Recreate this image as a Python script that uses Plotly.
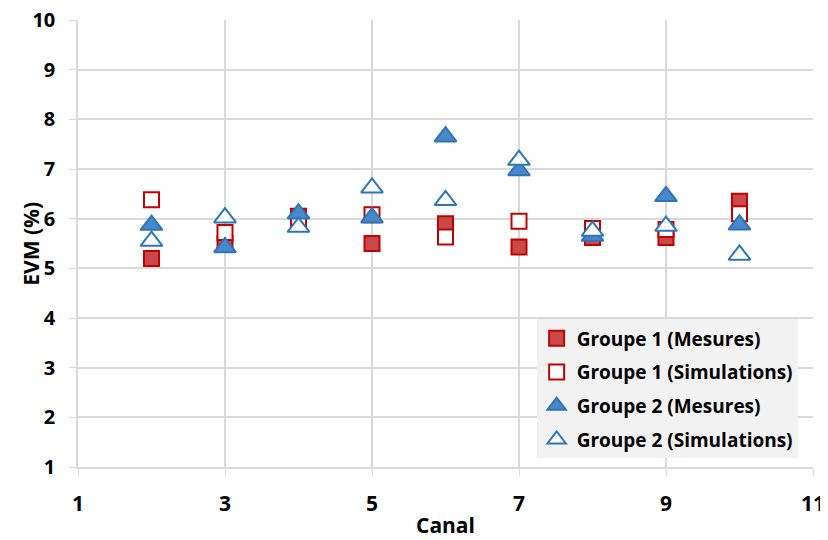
import plotly.graph_objects as go

# EVM par canal
canal = [2, 3, 4, 5, 6, 7, 8, 9, 10]
g1_mesures = [5.2, 5.5, 6.05, 5.5, 5.9, 5.43, 5.62, 5.62, 6.35]
g1_simulations = [6.38, 5.72, 6.0, 6.08, 5.63, 5.95, 5.8, 5.78, 6.1]
g2_mesures = [5.87, 5.42, 6.1, 6.02, 7.65, 6.97, 5.65, 6.45, 5.88]
g2_simulations = [5.55, 6.02, 5.83, 6.62, 6.37, 7.18, 5.75, 5.85, 5.27]

x_ticks = [1, 3, 5, 7, 9, 11]
y_ticks = [1, 2, 3, 4, 5, 6, 7, 8, 9, 10]

red_line = '#C00000'
red_fill = '#C9494B'
blue_line = '#2E75B6'
blue_fill = '#4A88CC'

font_family = 'Open Sans'
title_font = dict(size=21, family=font_family, weight='bold', color='black')

fig = go.Figure()
fig.add_trace(go.Scatter(x=canal, y=g1_mesures, mode='markers', name='Groupe 1 (Mesures)', legendgroup='a',
                         marker=dict(symbol='square', size=15, color=red_fill, line=dict(color=red_line, width=2))))
fig.add_trace(go.Scatter(x=canal, y=g1_simulations, mode='markers', name='Groupe 1 (Simulations)', legendgroup='b',
                         marker=dict(symbol='square', size=15, color='white', line=dict(color=red_line, width=2))))
fig.add_trace(go.Scatter(x=canal, y=g2_mesures, mode='markers', name='Groupe 2 (Mesures)', legendgroup='c',
                         marker=dict(symbol='triangle-up', size=19, color=blue_fill, line=dict(color=blue_line, width=2))))
fig.add_trace(go.Scatter(x=canal, y=g2_simulations, mode='markers', name='Groupe 2 (Simulations)', legendgroup='d',
                         marker=dict(symbol='triangle-up', size=19, color='white', line=dict(color=blue_line, width=2))))

# the page body adds an 8px margin: margins are set so the plot lands where the reference has it
fig.update_layout(
    width=828, height=540,
    margin=dict(l=70, r=23, t=12, b=81),
    paper_bgcolor='white', plot_bgcolor='white',
    font=dict(family=font_family, color='black'),
    legend=dict(
        x=0.624, y=0.33, xanchor='left', yanchor='top',
        bgcolor='#F2F2F2', traceorder='grouped',
        font=dict(size=19, family=font_family, color='black', weight='bold'),
        tracegroupgap=6, itemwidth=30,
    ),
    xaxis=dict(
        range=[1, 11], tickvals=x_ticks, ticktext=[str(v) for v in x_ticks],
        showgrid=True, gridcolor='#D9D9D9', gridwidth=1.5,
        showline=True, linecolor='#D9D9D9', linewidth=1.5,
        ticks='outside', ticklen=7, tickcolor='#D9D9D9',
        zeroline=False, automargin=False, ticklabelstandoff=10, ticklabeloverflow='allow',
        tickfont=dict(size=21, family=font_family, weight='bold'),
    ),
    yaxis=dict(
        range=[1, 10], tickvals=y_ticks,
        showgrid=True, gridcolor='#D9D9D9', gridwidth=1.5,
        showline=True, linecolor='#D9D9D9', linewidth=1.5,
        ticks='outside', ticklen=7, tickcolor='#D9D9D9',
        zeroline=False, automargin=False, ticklabelstandoff=10, ticklabeloverflow='allow',
        tickfont=dict(size=20, family=font_family, weight='bold'),
    ),
    annotations=[
        dict(text='EVM (%)', xref='paper', yref='paper', x=-0.065, y=0.5,
             xanchor='center', yanchor='middle', textangle=-90, showarrow=False, font=title_font),
        dict(text='Canal', xref='paper', yref='paper', x=0.5, y=-0.13,
             xanchor='center', yanchor='middle', showarrow=False, font=title_font),
    ],
)

fig.write_html("out.html")
